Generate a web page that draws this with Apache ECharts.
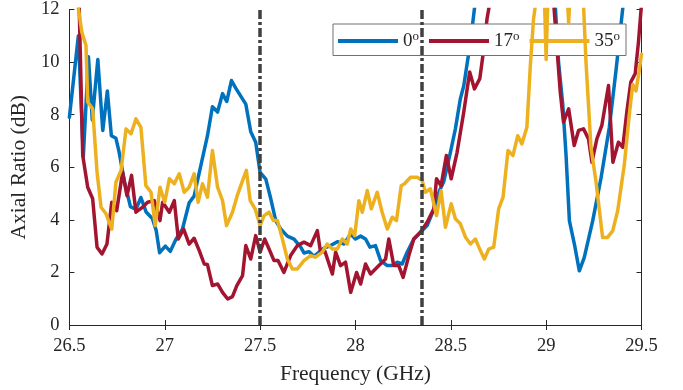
<!DOCTYPE html>
<html>
<head>
<meta charset="utf-8">
<script src="https://cdn.jsdelivr.net/npm/echarts@6/dist/echarts.min.js"></script>
<style>
html,body{margin:0;padding:0;background:#fff;}
#chart{width:683px;height:390px;}
</style>
</head>
<body>
<div id="chart"></div>
<script>
// ---- data ----
const seriesNames = ['0', '17', '35'];
const seriesColors = ['#0072BD', '#A2142F', '#EDB120'];
const markers = [27.5, 28.35];

const blueFreq = [26.5,26.547,26.573,26.6,26.62,26.649,26.675,26.699,26.72,26.744,26.76,26.79,26.82,26.849,26.875,26.902,26.935,26.955,26.973,27.003,27.029,27.058,27.093,27.128,27.154,27.172,27.224,27.25,27.277,27.303,27.325,27.35,27.373,27.425,27.451,27.477,27.5,27.53,27.556,27.582,27.608,27.643,27.678,27.713,27.73,27.756,27.783,27.809,27.835,27.87,27.905,27.94,27.975,28.0,28.027,28.053,28.076,28.105,28.132,28.167,28.193,28.219,28.245,28.271,28.306,28.341,28.376,28.411,28.44,28.463,28.498,28.524,28.55,28.568,28.603,28.63,28.66,29.03,29.045,29.065,29.087,29.104,29.122,29.148,29.174,29.2,29.244,29.288,29.331,29.366,29.401,29.43,29.5];
const blueAR = [7.9,11.0,6.4,10.2,7.8,10.1,7.4,8.9,7.2,7.1,6.6,5.4,4.5,4.4,4.85,4.3,4.05,3.6,2.75,3.0,2.8,3.25,3.65,4.65,4.9,5.5,7.2,8.3,8.1,8.8,8.5,9.3,9.0,8.4,7.35,6.95,5.8,5.55,4.8,3.97,3.65,3.38,3.27,2.96,2.74,2.79,2.61,2.77,2.92,3.02,3.17,3.08,3.46,3.27,3.38,3.27,2.96,3.02,2.45,2.26,2.26,2.39,2.32,2.77,3.27,3.53,3.78,4.4,5.1,5.45,6.57,7.46,8.6,9.1,10.76,12.4,14,14,12.5,10.0,8.4,6.5,3.96,3.08,2.06,2.57,3.96,5.6,7.5,9.66,12.0,14,15];

const redFreq = [26.5,26.55,26.57,26.596,26.622,26.645,26.671,26.697,26.722,26.748,26.779,26.802,26.826,26.849,26.884,26.91,26.945,26.975,26.989,27.024,27.05,27.071,27.099,27.128,27.154,27.181,27.207,27.224,27.25,27.277,27.303,27.33,27.355,27.378,27.408,27.425,27.451,27.477,27.5,27.524,27.547,27.573,27.594,27.625,27.66,27.695,27.73,27.765,27.8,27.817,27.84,27.879,27.896,27.922,27.948,27.975,28.006,28.027,28.053,28.079,28.123,28.158,28.175,28.201,28.227,28.25,28.28,28.306,28.341,28.376,28.411,28.425,28.449,28.477,28.502,28.533,28.568,28.599,28.624,28.652,28.673,28.69,28.708,28.73,29.02,29.04,29.057,29.074,29.091,29.118,29.147,29.17,29.196,29.222,29.24,29.266,29.292,29.327,29.35,29.379,29.402,29.423,29.444,29.467,29.484,29.5];
const redAR = [14,12.5,6.45,5.24,4.8,2.96,2.7,3.08,4.67,4.35,5.81,4.92,5.69,4.29,4.48,4.67,4.73,3.97,4.67,4.29,4.73,3.27,3.65,3.08,3.3,2.83,2.32,2.3,1.5,1.56,1.24,0.99,1.08,1.5,1.88,3.02,2.51,3.4,2.77,3.27,2.89,2.45,2.45,2.0,2.64,3.02,3.15,3.02,3.59,2.77,2.8,1.94,2.77,2.26,2.39,1.24,2.0,1.56,2.32,1.94,2.26,2.51,3.27,2.26,2.26,1.81,2.64,3.27,3.53,3.91,4.42,5.56,5.3,6.45,5.56,6.57,8.1,9.62,8.98,9.37,10.5,11.65,12.4,14,14,12.2,10.5,8.86,7.72,8.22,6.83,7.4,7.46,7.08,6.19,7.08,7.59,9.11,6.19,6.95,6.76,8.1,9.24,9.56,10.76,12.2];

const yellowFreq = [26.5,26.54,26.565,26.587,26.596,26.622,26.645,26.666,26.692,26.722,26.744,26.771,26.797,26.823,26.849,26.875,26.901,26.928,26.95,26.975,27.0,27.024,27.05,27.076,27.102,27.128,27.154,27.175,27.198,27.224,27.25,27.277,27.303,27.324,27.355,27.38,27.408,27.428,27.448,27.474,27.5,27.521,27.547,27.57,27.591,27.617,27.643,27.669,27.695,27.73,27.765,27.791,27.826,27.852,27.879,27.905,27.931,27.957,27.975,27.996,28.018,28.036,28.062,28.083,28.114,28.14,28.167,28.193,28.215,28.24,28.257,28.289,28.324,28.35,28.367,28.393,28.425,28.449,28.472,28.502,28.524,28.55,28.577,28.603,28.629,28.655,28.676,28.699,28.725,28.751,28.774,28.8,28.826,28.851,28.873,28.899,28.917,28.934,28.952,28.985,29.0,29.015,29.1,29.118,29.135,29.185,29.209,29.235,29.261,29.296,29.322,29.349,29.375,29.41,29.436,29.454,29.471,29.488,29.5];
const yellowAR = [14,12.4,11.14,10.63,8.48,8.22,5.81,4.48,4.23,3.65,5.43,5.88,7.46,7.27,7.84,7.52,5.3,5.05,3.78,5.24,4.67,5.56,5.37,5.75,5.05,5.24,5.75,4.67,5.37,4.86,6.64,5.24,4.73,3.78,4.29,4.92,5.49,5.88,4.73,4.42,3.78,4.16,4.29,3.97,3.97,3.27,2.51,2.13,2.13,2.45,2.64,2.58,2.77,3.08,2.89,2.89,3.27,3.08,3.65,3.4,4.73,4.29,5.11,4.42,5.05,4.29,3.65,4.1,3.97,5.3,5.37,5.62,5.62,5.49,5.05,5.18,4.16,5.11,3.72,4.61,4.04,3.85,3.34,3.08,3.27,2.83,2.51,2.89,2.96,4.42,4.86,6.64,6.45,7.2,6.89,7.52,9.87,11.65,12.6,14,10.1,14,14,11.5,14,14,10.0,6.75,5.48,3.33,3.33,3.58,4.34,6.1,8.0,9.15,8.9,9.66,10.3];

const freqs = [blueFreq, redFreq, yellowFreq];
const vals = [blueAR, redAR, yellowAR];

// ---- chart ----
const FONT = 'Liberation Serif';
const AX = '#262626';
const LW = 3.5;
const chart = echarts.init(document.getElementById('chart'), null, {renderer: 'canvas'});

const lineSeries = seriesNames.map((n, i) => ({
  name: n,
  type: 'line',
  xAxisIndex: 0, yAxisIndex: 0,
  data: freqs[i].map((f, k) => [f, vals[i][k]]),
  symbol: 'none',
  showSymbol: false,
  clip: true,
  lineStyle: {color: seriesColors[i], width: LW, join: 'round', cap: 'round'},
  itemStyle: {color: seriesColors[i]},
  z: 2 + i
}));

lineSeries.push({
  name: 'markers',
  type: 'line',
  xAxisIndex: 0, yAxisIndex: 0,
  data: [],
  symbol: 'none',
  z: 10,
  markLine: {
    silent: true,
    symbol: 'none',
    label: {show: false},
    lineStyle: {color: '#404040', width: 3.5, type: [9, 3, 3, 3], opacity: 1},
    data: markers.map(v => ({xAxis: v}))
  }
});

const axisCommonX = {
  type: 'value', min: 26.5, max: 29.5, interval: 0.5,
  splitLine: {show: false},
  axisLine: {lineStyle: {color: AX, width: 1}},
  axisTick: {inside: true, length: 5, lineStyle: {color: AX}}
};
const axisCommonY = {
  type: 'value', min: 0, max: 12, interval: 2,
  splitLine: {show: false},
  axisLine: {show: true, lineStyle: {color: AX, width: 1}},
  axisTick: {show: true, inside: true, length: 5, lineStyle: {color: AX}}
};

chart.setOption({
  animation: false,
  backgroundColor: '#ffffff',
  grid: {left: 68, right: 41.5, top: 9, bottom: 64, show: false},
  legend: {
    data: seriesNames,
    left: 333, top: 24,
    orient: 'horizontal',
    icon: 'rect',
    itemWidth: 60, itemHeight: 4, itemGap: 10,
    padding: [6, 6, 5, 5],
    borderColor: '#707070', borderWidth: 1,
    backgroundColor: '#ffffff',
    formatter: n => '{n|' + n + '}{s|o}',
    textStyle: {
      fontFamily: FONT, fontSize: 19, color: '#262626',
      rich: {
        n: {fontFamily: FONT, fontSize: 19, color: '#262626'},
        s: {fontFamily: FONT, fontSize: 13, color: '#262626', padding: [0, 0, 9, 0]}
      }
    }
  },
  xAxis: [
    Object.assign({}, axisCommonX, {
      position: 'bottom',
      name: 'Frequency (GHz)', nameLocation: 'middle', nameGap: 38,
      nameTextStyle: {fontFamily: FONT, fontSize: 21.5, color: '#262626'},
      axisLabel: {fontFamily: FONT, fontSize: 18.5, color: '#262626', margin: 12}
    }),
    Object.assign({}, axisCommonX, {
      position: 'top', axisLabel: {show: false}
    })
  ],
  yAxis: [
    Object.assign({}, axisCommonY, {
      position: 'left',
      name: 'Axial Ratio (dB)', nameLocation: 'middle', nameGap: 32,
      nameTextStyle: {fontFamily: FONT, fontSize: 21.5, color: '#262626'},
      axisLabel: {fontFamily: FONT, fontSize: 18.5, color: '#262626', margin: 10}
    }),
    Object.assign({}, axisCommonY, {
      position: 'right', axisLabel: {show: false}
    })
  ],
  series: lineSeries
});
</script>
</body>
</html>
